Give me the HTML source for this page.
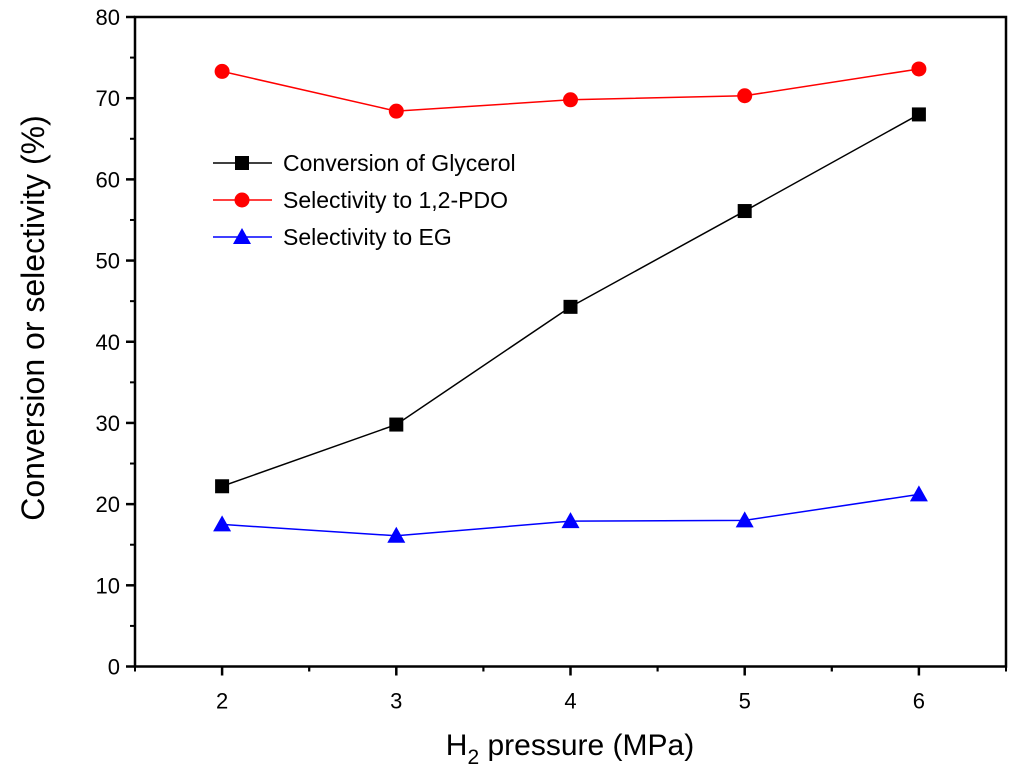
<!DOCTYPE html>
<html><head><meta charset="utf-8"><style>body{margin:0;background:#fff}svg{display:block}</style></head>
<body>
<svg id="chart" width="1024" height="775" xmlns="http://www.w3.org/2000/svg" font-family="Liberation Sans, Arial, sans-serif"></svg>
<script>
const categories=[2,3,4,5,6];
const conversion=[22.2,29.8,44.3,56.1,68.0];
const selPDO=[73.3,68.4,69.8,70.3,73.6];
const selEG=[17.5,16.1,17.9,18.0,21.2];
const yTicks=[0,10,20,30,40,50,60,70,80];
const xTicks=[2,3,4,5,6];
const NS="http://www.w3.org/2000/svg";
const svg=document.getElementById('chart');
const L=135,R=1006,T=17,B=666.5;
const xS=v=>L+(v-1.5)/5*(R-L);
const yS=v=>B-v/80*(B-T);
function mk(tag,attrs,parent){const e=document.createElementNS(NS,tag);for(const k in attrs)e.setAttribute(k,attrs[k]);(parent||svg).appendChild(e);return e;}
const frame=mk('rect',{x:L,y:T,width:R-L,height:B-T,fill:'none',stroke:'#000','stroke-width':2.5});


yTicks.forEach(v=>{
  const t=mk('line',{x1:L-9,x2:L,y1:yS(v),y2:yS(v),stroke:'#000','stroke-width':2.5});
  
  
  if(v<80){const m=mk('line',{x1:L-5,x2:L,y1:yS(v+5),y2:yS(v+5),stroke:'#000','stroke-width':2});
  
  }
  const lb=mk('text',{x:L-15,y:yS(v)+8,'text-anchor':'end','font-size':22});
  lb.textContent=v;
  
  
});
xTicks.forEach(v=>{
  const t=mk('line',{x1:xS(v),x2:xS(v),y1:B,y2:B+9,stroke:'#000','stroke-width':2.5});
  
  
  [v-0.5,v+0.5].forEach(m=>{const mm=mk('line',{x1:xS(m),x2:xS(m),y1:B,y2:B+5,stroke:'#000','stroke-width':2});
  
  });
  const lb=mk('text',{x:xS(v),y:B+42,'text-anchor':'middle','font-size':22});
  lb.textContent=v;
  
  
});
const xt=mk('text',{x:570,y:755,'text-anchor':'middle','font-size':30});
xt.innerHTML='H<tspan font-size="21" dy="9">2</tspan><tspan dy="-9"> pressure (MPa)</tspan>';


const yt=mk('text',{x:0,y:0,'text-anchor':'middle','font-size':32,transform:'translate(44,318) rotate(-90)'});
yt.textContent='Conversion or selectivity (%)';


function marker(g,type,x,y,c){
  if(type==='sq')return mk('rect',{x:x-7,y:y-7,width:14,height:14,fill:c},g);
  if(type==='ci')return mk('circle',{cx:x,cy:y,r:7.5,fill:c},g);
  return mk('polygon',{points:`${x},${y-9} ${x-9},${y+7} ${x+9},${y+7}`,fill:c},g);
}
const series=[[conversion,'#000','sq','series-conversion'],[selPDO,'#f00','ci','series-pdo'],[selEG,'#00f','tr','series-eg']];
series.forEach(([d,c,type,name])=>{
  const g=mk('g',{});
  
  
  const p=mk('polyline',{points:d.map((v,i)=>xS(categories[i])+','+yS(v)).join(' '),fill:'none',stroke:c,'stroke-width':1.5},g);
  
  
  d.forEach((v,i)=>{const m=marker(g,type,xS(categories[i]),yS(v),c);
    
    });
});
const legend=[['Conversion of Glycerol','#000','sq',163],['Selectivity to 1,2-PDO','#f00','ci',200],['Selectivity to EG','#00f','tr',237]];
legend.forEach(([txt,c,type,y])=>{
  const g=mk('g',{});
  
  
  mk('line',{x1:213,x2:272,y1:y,y2:y,stroke:c,'stroke-width':1.5},g);
  marker(g,type,242,y,c);
  const t=mk('text',{x:283,y:y+8,'font-size':23},g);
  t.textContent=txt;
});
</script>
</body></html>
